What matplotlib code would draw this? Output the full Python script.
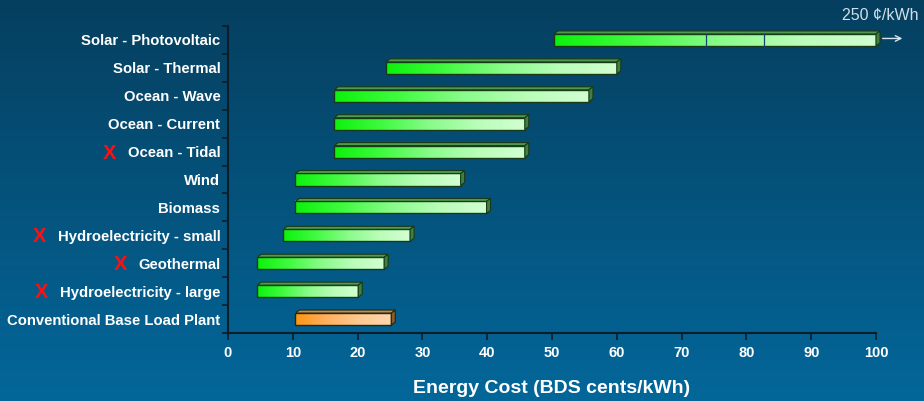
import matplotlib
matplotlib.use("Agg")
import matplotlib.pyplot as plt
import numpy as np
from matplotlib.colors import LinearSegmentedColormap
from matplotlib.patches import Polygon

plt.rcParams['font.family'] = ['Liberation Sans', 'DejaVu Sans']

# data
sources = [
    'Solar - Photovoltaic', 'Solar - Thermal', 'Ocean - Wave', 'Ocean - Current',
    'Ocean - Tidal', 'Wind', 'Biomass', 'Hydroelectricity - small',
    'Geothermal', 'Hydroelectricity - large', 'Conventional Base Load Plant',
]
cost_low = [50.3, 24.4, 16.4, 16.4, 16.4, 10.4, 10.4, 8.5, 4.5, 4.5, 10.4]
cost_high = [100, 60, 55.7, 45.8, 45.8, 35.9, 39.9, 28.1, 24.1, 20.1, 25.2]
crossed = ['Ocean - Tidal', 'Hydroelectricity - small', 'Geothermal',
           'Hydroelectricity - large']
conventional = ['Conventional Base Load Plant']
pv_breaks = [73.8, 82.7]
xticks = list(range(0, 101, 10))

W, H = 924, 401
fig = plt.figure(figsize=(W / 100, H / 100), dpi=100)

# background gradient, dark at the top
bg = fig.add_axes([0, 0, 1, 1])
bg.set_axis_off()
bg_cmap = LinearSegmentedColormap.from_list('bg', ['#063f5f', '#03679a'])
bg.imshow(np.linspace(0, 1, 256).reshape(-1, 1), cmap=bg_cmap, aspect='auto',
          extent=(0, 1, 0, 1), origin='lower')
bg.set_xlim(0, 1)
bg.set_ylim(1, 0)

ax = fig.add_axes([228 / W, 1 - 333 / H, 648 / W, 307 / H])
ax.patch.set_alpha(0)
n = len(sources)
ax.set_xlim(0, 100)
ax.set_ylim(n - 0.5, -0.5)

green = LinearSegmentedColormap.from_list(
    'g', ['#0cf20c', '#40fa40', '#88fb88', '#b8fdb8', '#d2ffd2'])
orange = LinearSegmentedColormap.from_list(
    'o', ['#ff9410', '#ffb060', '#ffc890', '#ffd6ae'])

bh = 0.43          # front face height (rows)
dx = 4 / 6.48      # depth offset, data units
dy = 3 / 27.9      # depth offset, rows
grad = np.linspace(0, 1, 256).reshape(1, -1)

for i, (name, lo, hi) in enumerate(zip(sources, cost_low, cost_high)):
    is_conv = name in conventional
    cmap = orange if is_conv else green
    top_c = '#c98a4a' if is_conv else '#4f9a4f'
    side_c = '#8a5a2a' if is_conv else '#3f7f3f'
    edge = '#1f2a14' if is_conv else '#183a18'
    y0, y1 = i - bh / 2, i + bh / 2
    ax.imshow(grad, cmap=cmap, aspect='auto', extent=(lo, hi, y1, y0),
              zorder=3, clip_on=False, interpolation='bilinear')
    ax.add_patch(plt.Rectangle((lo, y0), hi - lo, bh, fill=False, ec=edge,
                               lw=1.0, zorder=4, clip_on=False))
    top = Polygon([(lo, y0), (lo + dx, y0 - dy), (hi + dx, y0 - dy), (hi, y0)],
                  closed=True, fc=top_c, ec=edge, lw=0.8, zorder=4,
                  clip_on=False)
    side = Polygon([(hi, y0), (hi + dx, y0 - dy), (hi + dx, y1 - dy), (hi, y1)],
                   closed=True, fc=side_c, ec=edge, lw=0.8, zorder=4,
                   clip_on=False)
    ax.add_patch(top)
    ax.add_patch(side)
    if i == 0:
        for b in pv_breaks:
            ax.plot([b, b], [y0, y1], color='#1a3f70', lw=0.9, zorder=5)

# axes styling
for s in ['top', 'right']:
    ax.spines[s].set_visible(False)
for s in ['left', 'bottom']:
    ax.spines[s].set_color('#0c1e2a')
    ax.spines[s].set_linewidth(1.5)
    ax.spines[s].set_zorder(6)

ax.set_yticks(range(n))
ax.set_yticklabels(sources)
ax.set_yticks(np.arange(-0.5, n, 1), minor=True)
ax.tick_params(axis='y', which='major', length=0, pad=5.5,
               labelcolor='white', labelsize=10.7)
ax.tick_params(axis='y', which='minor', length=4, width=1.2,
               color='#0c1e2a', direction='out')
for t in ax.get_yticklabels():
    t.set_fontweight('bold')

ax.set_xticks(xticks)
ax.set_xticklabels([str(v) for v in xticks], fontweight='bold')
ax.tick_params(axis='x', length=5, width=1.2, color='#0c1e2a', pad=4.5,
               labelcolor='white', labelsize=10.5)
ax.set_xlabel('Energy Cost (BDS cents/kWh)', color='white', fontsize=14,
              fontweight='bold', labelpad=14)

# off-scale note for photovoltaic
ax.annotate('', xy=(104.5, 0 - dy / 2), xytext=(100.6, 0 - dy / 2),
            arrowprops=dict(arrowstyle='->', color='#d8e6f0', lw=1.0),
            annotation_clip=False)
fig.text(919 / W, 1 - 16 / H, '250 \u00a2/kWh', color='#d0e0ea', fontsize=11.5,
         ha='right', va='center')

# red crosses next to some labels
fig.canvas.draw()
renderer = fig.canvas.get_renderer()
for t in ax.get_yticklabels():
    if t.get_text() in crossed:
        bb = t.get_window_extent(renderer)
        xc = (bb.x0 - 18) / W
        yc = (bb.y0 + bb.y1) / 2 / H
        fig.text(xc, yc, 'X', color='#ff1010', fontsize=14.5, fontweight='bold',
                 ha='center', va='center')

fig.savefig('out.png', dpi=100)
